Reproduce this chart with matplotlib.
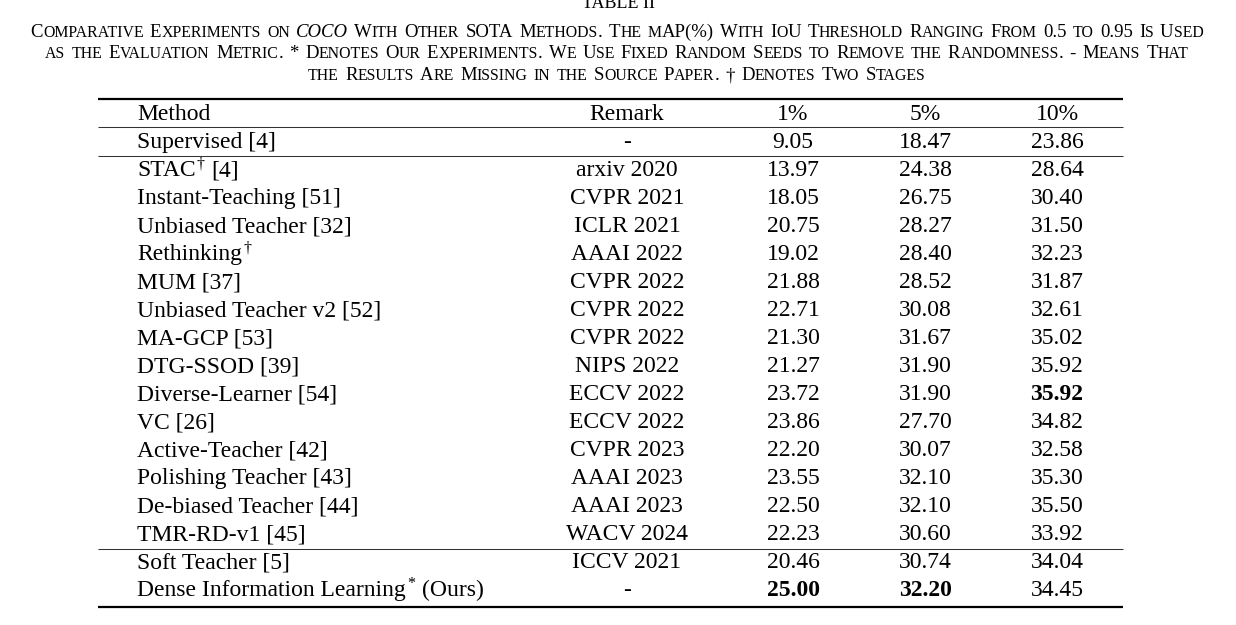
import matplotlib
matplotlib.use("Agg")
import matplotlib.pyplot as plt

SERIF = "Liberation Serif"
plt.rcParams["font.family"] = SERIF

# ---- table content ----
table_no = "TABLE II"
caption_lines = [
    "Comparative Experiments on _COCO_ With Other SOTA Methods. The mAP(%) With IoU "
    "Threshold Ranging From 0.5 to 0.95 Is Used",
    "as the Evaluation Metric. * Denotes Our Experiments. We Use Fixed Random Seeds "
    "to Remove the Randomness. - Means That",
    "the Results Are Missing in the Source Paper. \u2020 Denotes Two Stages",
]
headers = ["Method", "Remark", "1%", "5%", "10%"]
# "^x" marks a superscript character
methods = [
    "Supervised [4]",
    "STAC^\u2020 [4]",
    "Instant-Teaching [51]",
    "Unbiased Teacher [32]",
    "Rethinking^\u2020",
    "MUM [37]",
    "Unbiased Teacher v2 [52]",
    "MA-GCP [53]",
    "DTG-SSOD [39]",
    "Diverse-Learner [54]",
    "VC [26]",
    "Active-Teacher [42]",
    "Polishing Teacher [43]",
    "De-biased Teacher [44]",
    "TMR-RD-v1 [45]",
    "Soft Teacher [5]",
    "Dense Information Learning^* (Ours)",
]
remarks = ["-", "arxiv 2020", "CVPR 2021", "ICLR 2021", "AAAI 2022", "CVPR 2022",
           "CVPR 2022", "CVPR 2022", "NIPS 2022", "ECCV 2022", "ECCV 2022",
           "CVPR 2023", "AAAI 2023", "AAAI 2023", "WACV 2024", "ICCV 2021", "-"]
map_1 = [9.05, 13.97, 18.05, 20.75, 19.02, 21.88, 22.71, 21.30, 21.27, 23.72,
         23.86, 22.20, 23.55, 22.50, 22.23, 20.46, 25.00]
map_5 = [18.47, 24.38, 26.75, 28.27, 28.40, 28.52, 30.08, 31.67, 31.90, 31.90,
         27.70, 30.07, 32.10, 32.10, 30.60, 30.74, 32.20]
map_10 = [23.86, 28.64, 30.40, 31.50, 32.23, 31.87, 32.61, 35.02, 35.92, 35.92,
          34.82, 32.58, 35.30, 35.50, 33.92, 34.04, 34.45]
bold_cells = [(9, 2), (16, 0), (16, 1)]   # (row, metric column)

W, H = 1236, 625
fig = plt.figure(figsize=(W / 100, H / 100), dpi=100)
ax = fig.add_axes([0, 0, 1, 1])
ax.set_xlim(0, W)
ax.set_ylim(H, 0)
ax.axis("off")
renderer = fig.canvas.get_renderer()


def text_width(s, fs, style="normal"):
    # advance width, measured between two bars
    t1 = ax.text(0, 0, "|" + s + "|", fontsize=fs, style=style)
    t2 = ax.text(0, 0, "||", fontsize=fs, style=style)
    w = t1.get_window_extent(renderer).width - t2.get_window_extent(renderer).width
    t1.remove()
    t2.remove()
    return w


def small_caps(text, y, size, xc, ratio=0.85, space_scale=1.3):
    space = text_width(" ", size) * space_scale
    pieces = []
    x = 0
    for k, word in enumerate(text.split(" ")):
        style = "normal"
        if word.startswith("_") and word.endswith("_"):
            word = word[1:-1]
            style = "italic"
        if k:
            x += space
        runs = []
        for ch in word:
            small = ch.islower()
            if runs and runs[-1][1] == small:
                runs[-1][0] += ch
            else:
                runs.append([ch, small])
        for s, small in runs:
            fs = size * ratio if small else size
            s = s.upper()
            pieces.append((x, s, fs, style))
            x += text_width(s, fs, style)
    x0 = xc - x / 2
    for px, s, fs, style in pieces:
        ax.text(x0 + px, y, s, fontsize=fs, style=style, ha="left", va="baseline")


def method_text(x, y, s, fs):
    if "^" not in s:
        ax.text(x, y, s, fontsize=fs, ha="left", va="baseline")
        return
    pre, post = s.split("^", 1)
    sup, rest = post[0], post[1:]
    ax.text(x, y, pre, fontsize=fs, ha="left", va="baseline")
    x += text_width(pre, fs) + 1
    ax.text(x, y - 8, sup, fontsize=fs * 0.68, ha="left", va="baseline")
    x += text_width(sup, fs * 0.68)
    if rest:
        if rest.startswith(" "):
            x += text_width(" ", fs) + 1
            rest = rest.lstrip()
        ax.text(x, y, rest, fontsize=fs, ha="left", va="baseline")


# caption
cap_fs = 13.5
ax.text(618, 8.5, table_no, fontsize=13, ha="center", va="baseline")
for i, line in enumerate(caption_lines):
    small_caps(line, 36.7 + 21.7 * i, cap_fs, 617)

# rules
x_l, x_r = 98, 1123
ax.hlines([98.5, 606.5], x_l, x_r, color="black", lw=1.6)
ax.hlines([127, 156, 548.5], x_l, x_r, color="#333333", lw=0.75)

# table
fs = 17
col_x = [137, 627, 793, 925, 1057]
header_y = 120.5
ax.text(col_x[0], header_y, headers[0], fontsize=fs, ha="left", va="baseline")
for c in range(1, 5):
    ax.text(col_x[c], header_y, headers[c], fontsize=fs, ha="center", va="baseline")

for i, m in enumerate(methods):
    y = 148 + 28 * i
    method_text(col_x[0], y, m, fs)
    ax.text(col_x[1], y, remarks[i], fontsize=fs, ha="center", va="baseline")
    for j, vals in enumerate([map_1, map_5, map_10]):
        w = "bold" if (i, j) in bold_cells else "normal"
        ax.text(col_x[2 + j], y, f"{vals[i]:.2f}", fontsize=fs, fontweight=w,
                ha="center", va="baseline")

fig.savefig("out.png", dpi=100)
